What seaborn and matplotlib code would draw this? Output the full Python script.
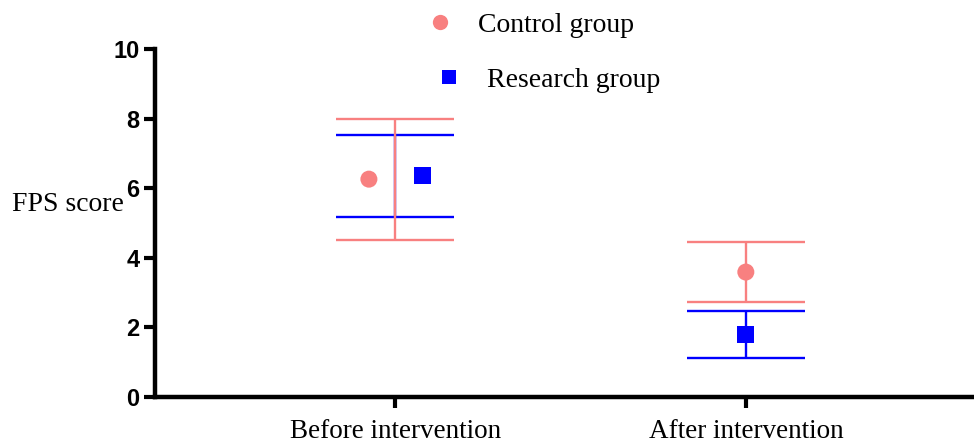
import matplotlib
matplotlib.use("Agg")
import matplotlib.pyplot as plt
import seaborn as sns
import pandas as pd
from matplotlib.lines import Line2D

# FPS scores (mean ± SD) for each group before and after the intervention
phases = ["Before intervention", "After intervention"]
groups = ["Control group", "Research group"]
control_mean = [6.26, 3.59]
control_sd = [1.74, 0.86]
research_mean = [6.36, 1.79]
research_sd = [1.18, 0.67]
y_ticks = [0, 2, 4, 6, 8, 10]

pink = "#F88080"
blue = "#0000FF"

sns.set_theme(style="ticks")
plt.rcParams["font.family"] = ["Liberation Serif", "DejaVu Serif"]
plt.rcParams["text.color"] = "black"
plt.rcParams["axes.labelcolor"] = "black"
plt.rcParams["xtick.color"] = "black"
plt.rcParams["ytick.color"] = "black"

df = pd.DataFrame({
    "phase": phases * 2,
    "group": [groups[0]] * 2 + [groups[1]] * 2,
    "mean": control_mean + research_mean,
    "sd": control_sd + research_sd,
})
df["x"] = df["phase"].map({p: i for i, p in enumerate(phases)})
# small horizontal dodge for the first phase only
dodge = {("Before intervention", "Control group"): -0.075,
         ("Before intervention", "Research group"): 0.077}
df["xd"] = df["x"] + [dodge.get((p, g), 0.0) for p, g in zip(df["phase"], df["group"])]

fig = plt.figure(figsize=(9.74, 4.43), dpi=100)
ax = fig.add_axes([155 / 974, 1 - 397 / 443, (972 - 155) / 974, 348 / 443])

# error bars centred on each phase
for g, col, z in [(groups[1], blue, 2), (groups[0], pink, 3)]:
    sub = df[df["group"] == g]
    ax.errorbar(sub["x"], sub["mean"], yerr=sub["sd"], fmt="none",
                ecolor=col, elinewidth=1.7, capsize=42.5, capthick=1.7, zorder=z)

sns.scatterplot(data=df, x="xd", y="mean", hue="group", style="group",
                palette={groups[0]: pink, groups[1]: blue},
                markers={groups[0]: "o", groups[1]: "s"},
                s=150, edgecolor="none", linewidth=0, ax=ax, zorder=5, legend=False)

ax.set_xlim(-0.685, 1.645)
ax.set_ylim(0, 10)
ax.set_xticks(range(len(phases)))
ax.set_xticklabels(phases, fontsize=19.5)
ax.set_yticks(y_ticks)
ax.set_yticklabels([str(t) for t in y_ticks], fontsize=17, fontweight="bold",
                   family=["Liberation Sans", "DejaVu Sans"])
ax.set_xlabel("")
ax.set_ylabel("FPS score", fontsize=20, rotation=0, ha="left", va="center")
ax.yaxis.set_label_coords(-0.175, 0.552)

sns.despine(ax=ax)
for sp in ["left", "bottom"]:
    ax.spines[sp].set_linewidth(3.2)
    ax.spines[sp].set_color("black")
ax.tick_params(axis="both", length=8, width=3, color="black", pad=3)
ax.tick_params(axis="x", pad=8)

# one legend entry per row, each placed on its own
ctrl_handle = Line2D([], [], marker="o", linestyle="none", color=pink,
                     markersize=11, markeredgewidth=0)
res_handle = Line2D([], [], marker="s", linestyle="none", color=blue,
                    markersize=10, markeredgewidth=0)
fig.legend([ctrl_handle], [groups[0]], loc="center left",
           bbox_to_anchor=(412 / 974, 1 - 25 / 443), frameon=False,
           fontsize=20, handletextpad=0.38, borderpad=0, borderaxespad=0)
fig.legend([res_handle], [groups[1]], loc="center left",
           bbox_to_anchor=(421 / 974, 1 - 80 / 443), frameon=False,
           fontsize=20, handletextpad=0.38, borderpad=0, borderaxespad=0)

fig.savefig("out.png", dpi=100, facecolor="white")
